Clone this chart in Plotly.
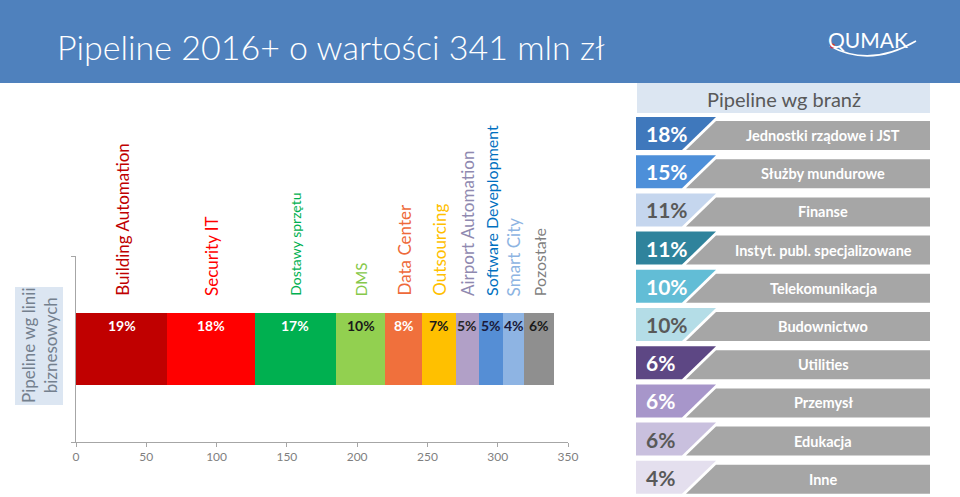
import plotly.graph_objects as go

W, H = 960, 497

# ---------------- data ----------------
segments = ["Building Automation", "Security IT", "Dostawy sprzętu", "DMS", "Data Center",
            "Outsourcing", "Airport Automation", "Software Deveplopment", "Smart City", "Pozostałe"]
values = [65, 62, 58, 35, 26, 24, 17, 17, 15, 21]
seg_pct = ["19%", "18%", "17%", "10%", "8%", "7%", "5%", "5%", "4%", "6%"]
bar_colors = ["#C00000", "#FF0000", "#00B050", "#92D050", "#F0703C",
              "#FFC000", "#B1A0C7", "#558ED5", "#8EB4E3", "#8F8F8F"]
name_colors = ["#C00000", "#FF0000", "#00B050", "#86C84A", "#EE6A3A",
               "#FFC000", "#8F89B0", "#0070C0", "#8DB4E2", "#7F7F7F"]
name_sizes = [17, 17, 14, 15, 17, 17, 17, 16, 17, 16]
pct_colors = ["white", "white", "white", "#1A1A1A", "white",
              "#1A1A1A", "#262626", "#1A1A3A", "#1A1A3A", "#1A1A1A"]
x_ticks = [0, 50, 100, 150, 200, 250, 300, 350]

industries = ["Jednostki rządowe i JST", "Służby mundurowe", "Finanse",
              "Instyt. publ. specjalizowane", "Telekomunikacja", "Budownictwo",
              "Utilities", "Przemysł", "Edukacja", "Inne"]
ind_pct = [18, 15, 11, 11, 10, 10, 6, 6, 6, 4]
ind_colors = ["#3F78BC", "#4D8FD9", "#C5D6EE", "#2F839C", "#62BDD6",
              "#B4DDE7", "#5D4784", "#A796CA", "#C9C0DE", "#E4DFEE"]
ind_text = ["white", "white", "#595959", "white", "white",
            "#595959", "white", "white", "#595959", "#595959"]

FONT = "Lato"


def X(px):
    return px / W


def Y(py):
    return 1 - py / H


fig = go.Figure()

# stacked horizontal bar
for name, v, c in zip(segments, values, bar_colors):
    fig.add_trace(go.Bar(x=[v], y=[0.5], orientation="h", width=0.39,
                         marker=dict(color=c, line=dict(width=0)),
                         name=name, hoverinfo="skip", showlegend=False))

shapes = []
annotations = []

# bar labels and rotated category names
cum = 0
for name, v, pct, nc, ns, pc in zip(segments, values, seg_pct, name_colors, name_sizes, pct_colors):
    mid = cum + v / 2
    cum += v
    annotations.append(dict(x=mid, y=0.625, xref="x", yref="y", text="<b>%s</b>" % pct,
                            showarrow=False, font=dict(family=FONT, size=14, color=pc),
                            xanchor="center", yanchor="middle"))
    annotations.append(dict(x=mid, y=Y(298), xref="x", yref="paper", text=name,
                            textangle=-90, showarrow=False,
                            font=dict(family=FONT, size=ns, color=nc),
                            xanchor="center", yanchor="bottom"))

# title bar
shapes.append(dict(type="rect", xref="paper", yref="paper", x0=0, x1=1, y0=Y(83), y1=1,
                   fillcolor="#4F81BD", line=dict(width=0), layer="below"))
annotations.append(dict(x=X(55), y=Y(47), xref="paper", yref="paper",
                        text="Pipeline 2016+ o wartości 341 mln zł", showarrow=False,
                        font=dict(family=FONT, size=34, color="white", weight=300),
                        xanchor="left", yanchor="middle"))
# logo
annotations.append(dict(x=X(868), y=Y(40), xref="paper", yref="paper", text="QUMAK",
                        showarrow=False, font=dict(family=FONT, size=21, color="white"),
                        xanchor="center", yanchor="middle"))
shapes.append(dict(type="path", xref="paper", yref="paper",
                   path="M %f %f Q %f %f %f %f" % (X(830), Y(46), X(870), Y(68), X(916), Y(41)),
                   line=dict(color="white", width=1.5)))
shapes.append(dict(type="circle", xref="paper", yref="paper",
                   x0=X(830), x1=X(835), y0=Y(48.5), y1=Y(43.5),
                   fillcolor="#D03030", line=dict(width=0)))

# left vertical label box
shapes.append(dict(type="rect", xref="paper", yref="paper", x0=X(15), x1=X(63),
                   y0=Y(405), y1=Y(287), fillcolor="#DCE6F2", line=dict(width=0)))
annotations.append(dict(x=X(39), y=Y(346), xref="paper", yref="paper",
                        text="Pipeline wg linii<br>biznesowych", textangle=-90,
                        showarrow=False, font=dict(family=FONT, size=17, color="#74808E"),
                        xanchor="center", yanchor="middle"))

# right panel header
shapes.append(dict(type="rect", xref="paper", yref="paper", x0=X(637), x1=X(930),
                   y0=Y(113), y1=Y(83), fillcolor="#DCE6F2", line=dict(width=0)))
annotations.append(dict(x=X(784), y=Y(99), xref="paper", yref="paper",
                        text="Pipeline wg branż", showarrow=False,
                        font=dict(family=FONT, size=20, color="#595959"),
                        xanchor="center", yanchor="middle"))

# right panel rows
for i, (ind, p, c, tc) in enumerate(zip(industries, ind_pct, ind_colors, ind_text)):
    top = 117 + 38.2 * i
    bot = top + 33
    shapes.append(dict(type="path", xref="paper", yref="paper",
                       path="M %f %f L %f %f L %f %f L %f %f Z" % (
                           X(636), Y(top), X(716), Y(top), X(682), Y(bot), X(636), Y(bot)),
                       fillcolor=c, line=dict(width=0)))
    shapes.append(dict(type="path", xref="paper", yref="paper",
                       path="M %f %f L %f %f L %f %f L %f %f Z" % (
                           X(716), Y(top + 4), X(930), Y(top + 4), X(930), Y(bot), X(686), Y(bot)),
                       fillcolor="#A6A6A6", line=dict(width=0)))
    annotations.append(dict(x=X(644), y=Y((top + bot) / 2), xref="paper", yref="paper",
                            text="<b>%d%%</b>" % p, showarrow=False,
                            font=dict(family=FONT, size=21, color=tc),
                            xanchor="left", yanchor="middle"))
    annotations.append(dict(x=X(823), y=Y((top + 4 + bot) / 2), xref="paper", yref="paper",
                            text="<b>%s</b>" % ind, showarrow=False,
                            font=dict(family=FONT, size=14.5, color="white"),
                            xanchor="center", yanchor="middle"))

fig.update_layout(
    width=W, height=H, autosize=False,
    margin=dict(l=0, r=0, t=0, b=0, pad=0, autoexpand=False),
    paper_bgcolor="white", plot_bgcolor="white",
    barmode="stack", bargap=0,
    font=dict(family=FONT),
    xaxis=dict(domain=[X(76), X(568)], range=[0, 350], tickvals=x_ticks, automargin=False,
               showgrid=False, zeroline=False, showline=True, linecolor="#A6A6A6",
               linewidth=1, ticks="outside", ticklen=4, tickcolor="#A6A6A6",
               tickfont=dict(family=FONT, size=12, color="#7F7F7F"), fixedrange=True),
    yaxis=dict(domain=[Y(442), Y(256)], range=[0, 1], tickvals=[0, 1], automargin=False,
               showticklabels=False, showgrid=False, zeroline=False, showline=True,
               linecolor="#A6A6A6", linewidth=1, ticks="outside", ticklen=4,
               tickcolor="#A6A6A6", fixedrange=True),
    shapes=shapes, annotations=annotations, showlegend=False,
)

fig.write_html("out.html")
